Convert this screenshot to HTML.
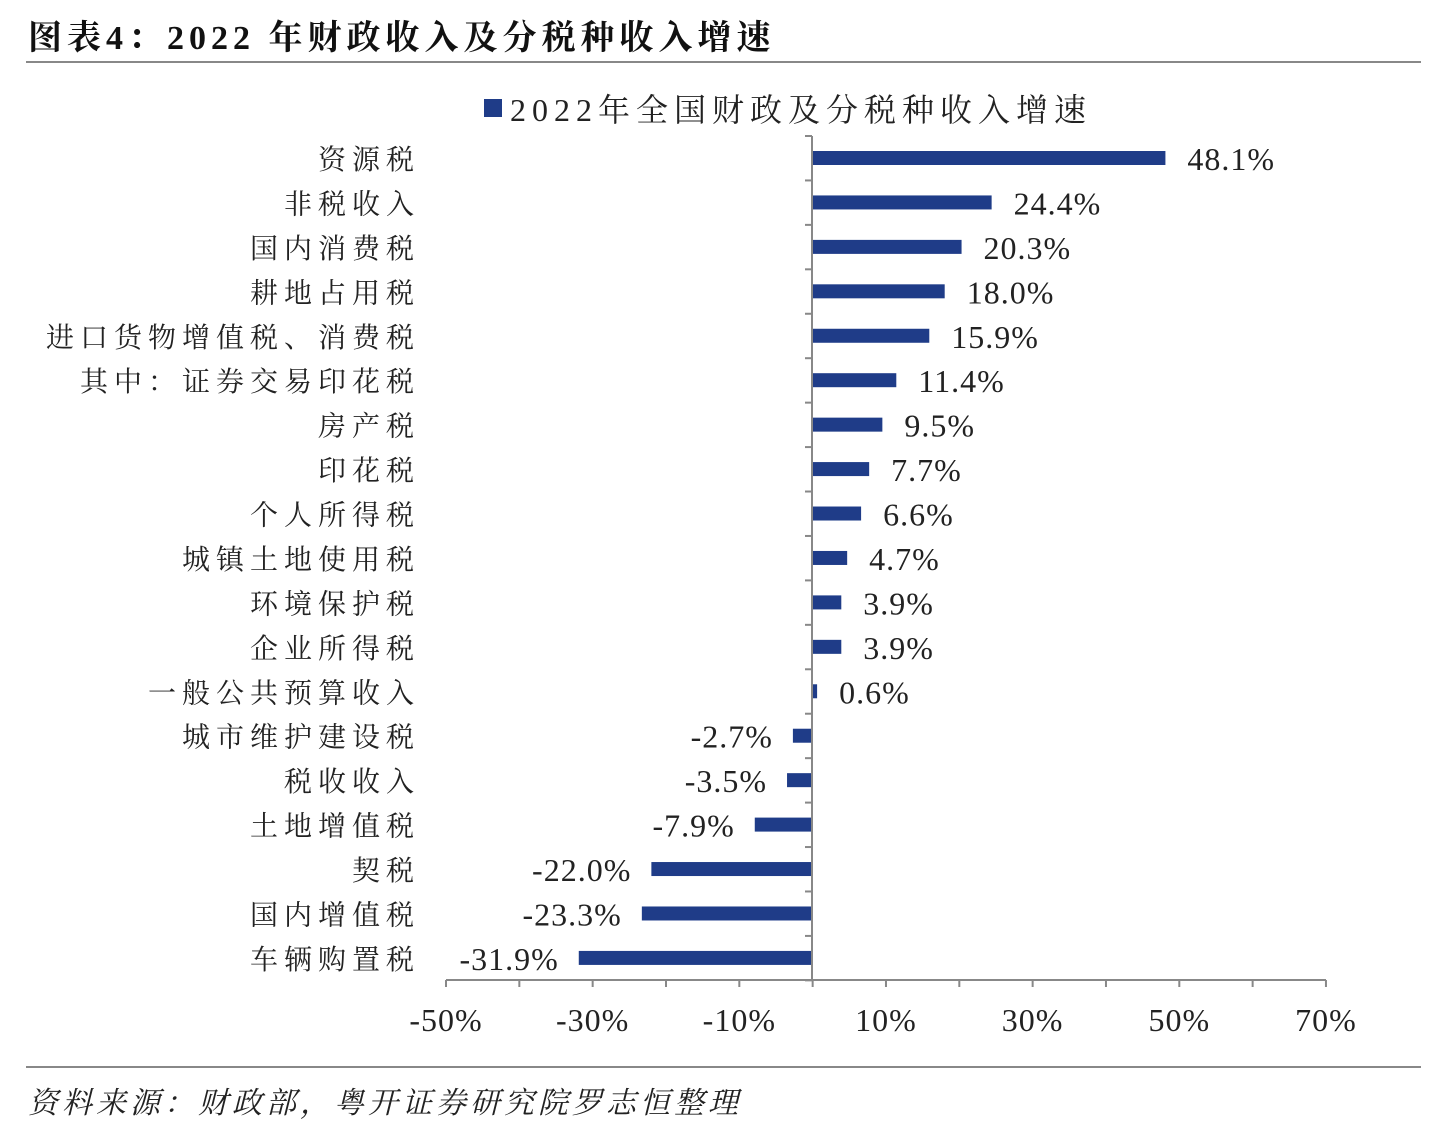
<!DOCTYPE html>
<html><head><meta charset="utf-8"><style>
body{margin:0;background:#fff;}
svg text{font-family:"Liberation Serif","Noto Serif CJK SC",serif;}
</style></head><body>
<svg width="1432" height="1134" xmlns="http://www.w3.org/2000/svg">
<text x="28" y="49" font-size="34" font-weight="bold" fill="#111" letter-spacing="5">图表4：2022 年财政收入及分税种收入增速</text>
<line x1="26" y1="62" x2="1421" y2="62" stroke="#888" stroke-width="2"/>
<line x1="26" y1="1067" x2="1421" y2="1067" stroke="#888" stroke-width="2"/>
<text x="28" y="1113" font-size="30" font-style="italic" fill="#222" letter-spacing="4">资料来源：财政部，粤开证券研究院罗志恒整理</text>
<rect x="484" y="99" width="18" height="18" fill="#1f3c88"/>
<text x="510" y="121" font-size="32" fill="#222" letter-spacing="6">2022年全国财政及分税种收入增速</text>
<g id="chart"></g>
</svg>
<script>
var d=[["资源税",48.1],["非税收入",24.4],["国内消费税",20.3],["耕地占用税",18.0],["进口货物增值税、消费税",15.9],["其中：证券交易印花税",11.4],["房产税",9.5],["印花税",7.7],["个人所得税",6.6],["城镇土地使用税",4.7],["环境保护税",3.9],["企业所得税",3.9],["一般公共预算收入",0.6],["城市维护建设税",-2.7],["税收收入",-3.5],["土地增值税",-7.9],["契税",-22.0],["国内增值税",-23.3],["车辆购置税",-31.9]];
var g=document.getElementById('chart'),s='',z=812.7,k=7.333;
d.forEach(function(r,i){var y=158+i*44.44,v=r[1],w=Math.abs(v)*k,x=v>=0?z:z-w;
s+='<rect x="'+x+'" y="'+(y-7)+'" width="'+Math.max(w,2)+'" height="14" fill="#1f3c88"/>';
s+='<text x="420" y="'+(y+11)+'" font-size="28" text-anchor="end" fill="#222" letter-spacing="6">'+r[0]+'</text>';
var lbl=v.toFixed(1)+'%';
if(v>=0)s+='<text x="'+(z+w+22)+'" y="'+(y+12)+'" font-size="32" letter-spacing="1" fill="#222">'+lbl+'</text>';
else s+='<text x="'+(x-20)+'" y="'+(y+12)+'" font-size="32" letter-spacing="1" text-anchor="end" fill="#222">'+lbl+'</text>';
});
for(var i=0;i<=19;i++){var y=136+i*44.44;s+='<line x1="805" y1="'+y+'" x2="812" y2="'+y+'" stroke="#888" stroke-width="2"/>';}
s+='<line x1="812" y1="136" x2="812" y2="980" stroke="#888" stroke-width="2"/>';
s+='<line x1="446" y1="980" x2="1326" y2="980" stroke="#888" stroke-width="2"/>';
for(var t=-50;t<=70;t+=10){var x=446+(t+50)*k;s+='<line x1="'+x+'" y1="980" x2="'+x+'" y2="987" stroke="#888" stroke-width="2"/>';
if((t+50)%20==0)s+='<text x="'+x+'" y="1031" font-size="32" letter-spacing="1" text-anchor="middle" fill="#222">'+t+'%</text>';}
g.innerHTML=s;
</script>
</body></html>
